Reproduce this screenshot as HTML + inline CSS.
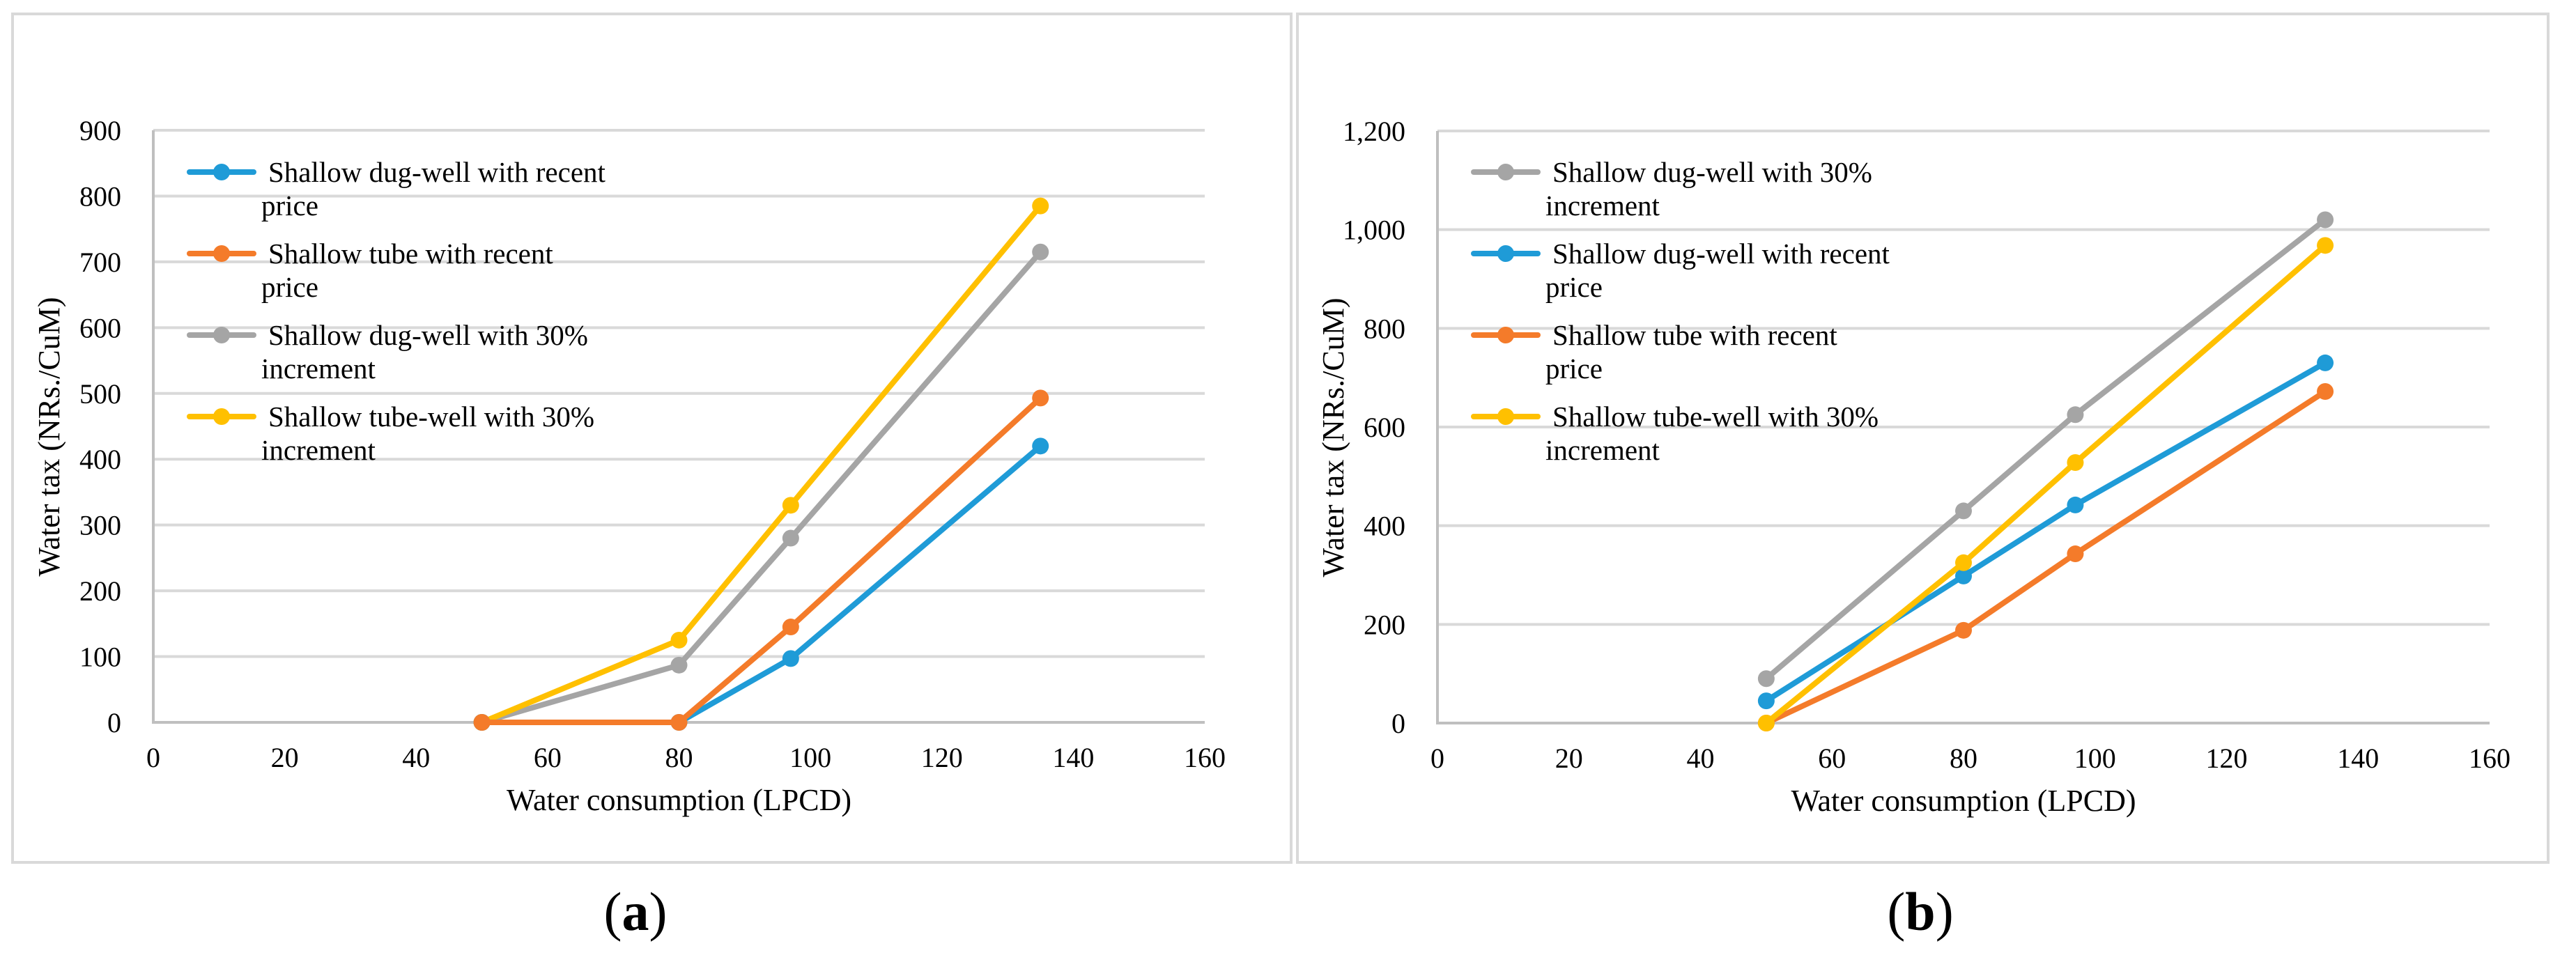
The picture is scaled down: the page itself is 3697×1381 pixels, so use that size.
<!DOCTYPE html>
<html><head><meta charset="utf-8"><style>
html,body{margin:0;padding:0;background:#fff;}
svg, svg text{font-family:"Liberation Serif","Times New Roman",serif;}
</style></head><body>
<svg id="fig" width="3697" height="1376" viewBox="0 0 3697 1376" xmlns="http://www.w3.org/2000/svg" font-family="Liberation Serif, serif">
<rect x="18" y="20" width="1835" height="1218" fill="none" stroke="#d9d9d9" stroke-width="4"/>
<rect x="1862" y="20" width="1795" height="1218" fill="none" stroke="#d9d9d9" stroke-width="4"/>
<text x="912" y="1335" font-size="78" text-anchor="middle">(<tspan font-weight="bold">a</tspan>)</text>
<text x="2756" y="1335" font-size="78" text-anchor="middle">(<tspan font-weight="bold">b</tspan>)</text>
</svg>
<script>
const xTicks=[0,20,40,60,80,100,120,140,160];
const xValues=[50,80,97,135];
// panel a
const aYTicks=[0,100,200,300,400,500,600,700,800,900];
const aYLabels=["0","100","200","300","400","500","600","700","800","900"];
const aNames=["Shallow dug-well with recent|price","Shallow tube with recent|price","Shallow dug-well with 30%|increment","Shallow tube-well with 30%|increment"];
const aColors=["#1f9bd7","#f47b2a","#a5a5a5","#ffc000"];
const aDug=[0,0,97,420];
const aTube=[0,0,145,493];
const aDug30=[0,87,280,715];
const aTube30=[0,125,330,785];
// panel b
const bYTicks=[0,200,400,600,800,1000,1200];
const bYLabels=["0","200","400","600","800","1,000","1,200"];
const bNames=["Shallow dug-well with 30%|increment","Shallow dug-well with recent|price","Shallow tube with recent|price","Shallow tube-well with 30%|increment"];
const bColors=["#a5a5a5","#1f9bd7","#f47b2a","#ffc000"];
const bDug30=[90,430,625,1020];
const bDug=[45,298,442,730];
const bTube=[0,188,343,672];
const bTube30=[0,325,528,968];

const NS="http://www.w3.org/2000/svg";
const svg=document.getElementById('fig');
const FF='Liberation Serif, serif';
function mk(tag,attrs,parent){const e=document.createElementNS(NS,tag);for(const k in attrs)e.setAttribute(k,attrs[k]);if(tag==='text')e.setAttribute('font-family',FF);(parent||svg).appendChild(e);return e;}

function chart(id,x0,x1,yTop,yBot,yMax,yTicks,yLabels,series,colors,names,drawOrder){
  const g=mk('g',{});
  
  
  const sx=v=>x0+(v/160)*(x1-x0);
  const sy=v=>yBot-(v/yMax)*(yBot-yTop);
  yTicks.forEach((t,i)=>{
    if(t>0){const l=mk('line',{x1:x0,x2:x1,y1:sy(t),y2:sy(t),stroke:'#d9d9d9','stroke-width':4},g);
    
    }
    const tx=mk('text',{x:x0-46,y:sy(t)+14,'font-size':40,'text-anchor':'end'},g);
    tx.textContent=yLabels[i];
    
    
  });
  const ax=mk('line',{x1:x0,x2:x0,y1:yTop,y2:yBot,stroke:'#bfbfbf',"stroke-width":4},g);
  
  
  const axx=mk('line',{x1:x0-2,x2:x1,y1:yBot,y2:yBot,stroke:'#bfbfbf',"stroke-width":4},g);
  
  
  xTicks.forEach(t=>{
    const tx=mk('text',{x:sx(t),y:yBot+64,'font-size':40,'text-anchor':'middle'},g);
    tx.textContent=t;
    
    
  });
  const xt=mk('text',{x:(x0+x1)/2,y:yBot+126,'font-size':44,'text-anchor':'middle'},g);
  xt.textContent='Water consumption (LPCD)';
  
  
  const yc=(yTop+yBot)/2+15;
  const ytl=mk('text',{x:0,y:0,'font-size':44,'text-anchor':'middle',transform:`translate(${x0-135},${yc}) rotate(-90)`},g);
  ytl.textContent='Water tax (NRs./CuM)';
  
  
  drawOrder.forEach(si=>{
    const vals=series[si];
    const pts=vals.map((v,i)=>sx(xValues[i])+','+sy(v)).join(' ');
    const pl=mk('polyline',{points:pts,fill:'none',stroke:colors[si],'stroke-width':8,'stroke-linejoin':'round','stroke-linecap':'round'},g);
    
    
    vals.forEach((v,i)=>{
      const c=mk('circle',{cx:sx(xValues[i]),cy:sy(v),r:12,fill:colors[si]},g);
      
      
    });
  });
  const lx=x0+52, rows=[247,364,481,598];
  names.forEach((n,i)=>{
    const lg=mk('g',{},g);
    
    
    mk('line',{x1:lx,x2:lx+92,y1:rows[i],y2:rows[i],stroke:colors[i],'stroke-width':8,'stroke-linecap':'round'},lg);
    mk('circle',{cx:lx+46,cy:rows[i],r:12,fill:colors[i]},lg);
    const parts=n.split('|');
    const t1=mk('text',{x:lx+113,y:rows[i]+14,'font-size':41},lg);
    t1.textContent=parts[0];
    const t2=mk('text',{x:lx+103,y:rows[i]+62,'font-size':41},lg);
    t2.textContent=parts[1];
  });
}
chart('panel-a',220,1729,187,1037,900,aYTicks,aYLabels,[aDug,aTube,aDug30,aTube30],aColors,aNames,[2,3,0,1]);
chart('panel-b',2063,3573,188,1038,1200,bYTicks,bYLabels,[bDug30,bDug,bTube,bTube30],bColors,bNames,[0,1,2,3]);
</script>
</body></html>
